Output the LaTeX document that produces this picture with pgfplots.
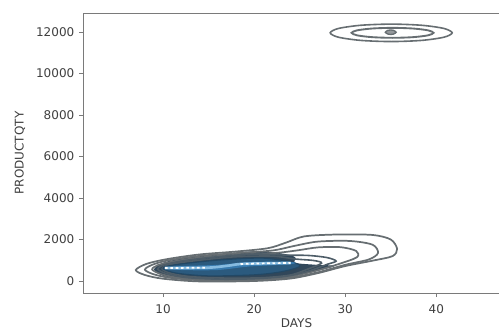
\documentclass[border=0pt]{standalone}
\usepackage{pgfplots}
\pgfplotsset{compat=1.18}
\usepackage{fontspec}
\setmainfont{DejaVu Sans}
\definecolor{spinecol}{HTML}{7A7A7A}
\definecolor{textcol}{HTML}{404040}
\definecolor{cg}{HTML}{676E72}
\definecolor{cg2}{HTML}{4E5D68}
\definecolor{cd}{HTML}{31475A}
\definecolor{cb1}{HTML}{2B5A7E}
\definecolor{cb2}{HTML}{3679AD}
\definecolor{cb3}{HTML}{86BBE0}
\begin{document}
\begin{tikzpicture}
\useasboundingbox (-62.25pt,-27pt) rectangle (312pt,219.75pt);
\clip (-62.25pt,-27pt) rectangle (312pt,219.75pt);
\begin{axis}[
  at={(0pt,0pt)}, anchor=south west,
  scale only axis, width=320.25pt, height=210pt,
  xmin=1.2, xmax=48.1, ymin=-578, ymax=12916,
  xtick={10,20,30,40}, ytick={0,2000,4000,6000,8000,10000,12000},
  tick align=outside, xtick pos=bottom, ytick pos=left,
  major tick length=3pt,
  axis line style={draw=spinecol, line width=0.6pt},
  every tick/.style={draw=spinecol, line width=0.6pt},
  ticklabel style={font=\fontsize{9}{10}\selectfont, text=textcol},
  xticklabel style={yshift=-2.5pt},
  /pgf/number format/assume math mode=true,
  /pgf/number format/1000 sep={},
  scaled y ticks=false,
  label style={font=\fontsize{9}{10}\selectfont, text=textcol},
  xlabel=DAYS, ylabel=PRODUCTQTY,
  xlabel style={at={(axis description cs:0.5,-0.106)}, anchor=center},
  ylabel style={at={(axis description cs:-0.1475,0.5)}, anchor=center},
]
% upper cluster
\addplot[draw=cg, line width=1.2pt, smooth cycle] coordinates {(41.75,11960) (40.85,12170) (38.40,12324) (35.05,12380) (31.70,12324) (29.25,12170) (28.35,11960) (29.25,11750) (31.70,11596) (35.05,11540) (38.40,11596) (40.85,11750)};
\addplot[draw=cg, line width=1.4pt, smooth cycle] coordinates {(39.7,11960) (39.10,12080) (37.45,12168) (35.2,12200) (32.95,12168) (31.30,12080) (30.7,11960) (31.30,11840) (32.95,11752) (35.2,11720) (37.45,11752) (39.10,11840)};
\addplot[draw=cg, fill=cg!70, line width=1pt, smooth cycle] coordinates {(35.6,11990) (35.3,12080) (35.0,12100) (34.7,12080) (34.4,11990) (34.7,11900) (35.0,11880) (35.3,11900)};
% lower cluster: dark band
\addplot[draw=none, fill=cd, smooth cycle] coordinates {(9.0,560) (10,250) (12,100) (15,10) (20,80) (23.5,220) (26.5,450) (28.8,720) (26.5,790) (24.5,880) (24.5,1150) (23,1330) (20,1430) (15,1250) (12,1080) (10,880)};
% contour lines
\addplot[draw=cg, line width=1.3pt, smooth cycle] coordinates {(7.0,530) (8.0,290) (10,110) (14,-20) (20,0) (24,120) (27,380) (30,720) (33,980) (35.2,1200) (35.7,1550) (35.0,2000) (33,2220) (29,2240) (25.5,2150) (23.5,1850) (21.5,1580) (18,1420) (14,1280) (10.5,1060) (8.2,830)};
\addplot[draw=cg, line width=1.3pt, smooth cycle] coordinates {(8.0,545) (9,320) (11,140) (15,20) (20,40) (24,170) (27,420) (30,780) (32.6,1040) (33.6,1350) (33.0,1750) (30.5,1930) (27,1900) (24.5,1700) (22,1470) (18,1340) (14,1210) (10.5,990) (8.8,780)};
\addplot[draw=cg, line width=1.3pt, smooth cycle] coordinates {(8.8,555) (9.8,330) (12,140) (16,50) (20,70) (23.5,190) (26.5,460) (29.3,820) (31.3,1150) (31.2,1450) (29.5,1630) (27,1620) (24.8,1480) (22.5,1360) (18,1260) (14,1130) (11,930) (9.4,760)};
\addplot[draw=cg2, line width=1.2pt, smooth cycle] coordinates {(9.4,570) (10.4,350) (12.5,170) (16,90) (20,110) (23.5,230) (26,480) (28,800) (29,960) (28,1130) (26,1230) (23.5,1250) (20,1300) (15.5,1150) (12,960) (10,760)};
\addplot[draw=cg2, line width=1.2pt, smooth cycle] coordinates {(9.9,580) (10.8,380) (13,210) (17,140) (21,160) (24,290) (25.8,560) (27.4,860) (26.5,990) (24.5,1060) (22,1200) (18,1170) (14.5,1030) (11.8,880) (10.4,740)};
% inner levels
\addplot[draw=cb1!80!black, fill=cb1, line width=0.8pt, smooth cycle] coordinates {(10,590) (11.5,380) (15,250) (20,300) (23,450) (25,700) (24.2,900) (21,1100) (16.5,1020) (12.5,850) (10.5,720)};
\addplot[draw=none, fill=cb2, smooth cycle] coordinates {(10.3,620) (12,530) (16,530) (19.5,700) (24,810) (24.2,910) (20,920) (16,780) (12,720)};
% ridge
\addplot[draw=cb3, line width=2pt, smooth] coordinates {(10.2,627) (14.8,640) (17,730) (18.5,820) (21,850) (24,870)};
\addplot[draw=white, line width=1.3pt, dash pattern=on 2pt off 2pt] coordinates {(10.2,627) (14.8,640)};
\addplot[draw=white, line width=1.3pt, dash pattern=on 2pt off 2pt, smooth] coordinates {(18.5,820) (21,850) (24,870)};
\end{axis}
\end{tikzpicture}
\end{document}
